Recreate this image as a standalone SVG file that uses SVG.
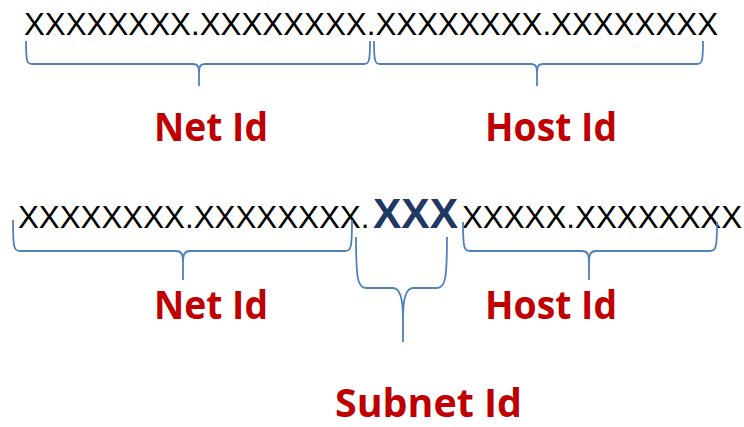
<svg xmlns="http://www.w3.org/2000/svg" width="744" height="427" viewBox="0 0 744 427">
<style>
.addr{font-family:"Liberation Sans",Arial,sans-serif;font-size:31.3px;fill:#000}
.sub{font-family:"Liberation Sans",Arial,sans-serif;font-weight:bold;font-size:42.5px;fill:#1F3864}
.lbl{font-family:"Open Sans","Noto Sans",sans-serif;font-weight:bold;font-size:40px;fill:#C00000}
.brace{fill:none;stroke:#4F81BD;stroke-width:1.8;stroke-linejoin:round}
</style>
<rect width="744" height="427" fill="#fff"/>
<g id="address1">
<text class="addr" x="24" y="35">XXXXXXXX.XXXXXXXX.XXXXXXXX.XXXXXXXX</text>
</g>
<g id="address2">
<text class="addr" y="228"><tspan x="18">XXXXXXXX.XXXXXXXX.</tspan><tspan class="sub" x="373">XXX</tspan><tspan x="462">XXXXX.XXXXXXXX</tspan></text>
</g>
<g id="connectors">
<path class="brace" d="M26,41 C26,62 27,64 32,64 H193 C198,64 199,67 199,73 V86 M370,41 C370,62 369,64 364,64 H205 C200,64 199,67 199,73"/>
<path class="brace" d="M374,41 C374,62 375,64 380,64 H531 C536,64 537,67 537,73 V86 M703,41 C703,62 702,64 697,64 H543 C538,64 537,67 537,73"/>
<path class="brace" d="M13,220 C13,248 14,251 20,251 H176 C182,251 183,255 183,263 V280 M352,220 C352,248 351,251 345,251 H190 C184,251 183,255 183,263"/>
<path class="brace" d="M463,222 C463,248 464,251 470,251 H582 C588,251 589,255 589,263 V280 M717,222 C717,248 716,251 710,251 H596 C590,251 589,255 589,263"/>
<path class="brace" d="M356,237 C356,280 358,288 366,288 H393 C400,288 403,300 403,318 V342 M447,237 C447,280 445,288 437,288 H413 C406,288 403,300 403,318"/>
</g>
<g id="net-id-1"><text class="lbl" x="154" y="141" textLength="114" lengthAdjust="spacingAndGlyphs">Net Id</text></g>
<g id="host-id-1"><text class="lbl" x="485" y="141" textLength="132" lengthAdjust="spacingAndGlyphs">Host Id</text></g>
<g id="net-id-2"><text class="lbl" x="154" y="319" textLength="114" lengthAdjust="spacingAndGlyphs">Net Id</text></g>
<g id="host-id-2"><text class="lbl" x="485" y="319" textLength="132" lengthAdjust="spacingAndGlyphs">Host Id</text></g>
<g id="subnet-id"><text class="lbl" x="335" y="417" textLength="187" lengthAdjust="spacingAndGlyphs">Subnet Id</text></g>
</svg>
